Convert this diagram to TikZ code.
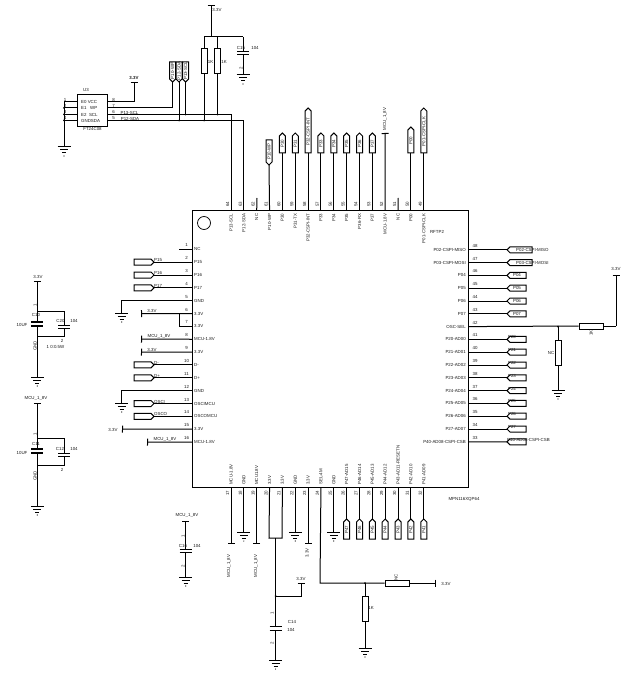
\documentclass[tikz,border=0pt]{standalone}
\usepackage{fontspec}
\setmainfont{Liberation Sans}
\usetikzlibrary{arrows.meta}
\tikzset{wire/.style={line width=1pt},
  pwr/.style={wire,-{Bar[width=7pt,line width=1pt]}},
  txt/.style={inner sep=0pt,font=\fontsize{4.4}{5}\selectfont,text=black!90},
  txtup/.style={txt,rotate=90},
  resbox/.style={draw,line width=1pt,fill=white,inner sep=0pt},
  resh/.style={resbox,minimum width=24pt,minimum height=6pt},
  resv/.style={resbox,minimum width=6pt,minimum height=25pt},
  plate/.style={line width=1.2pt},
  gnd/.pic={\draw[line width=1pt] (-6.5,0) -- (6.5,0) (-4,3) -- (4,3) (-2,6) -- (2,6);
            \fill (0,9) circle (.6pt);}}
\newcommand{\portflag}[5]{%
  \begin{scope}[shift={(#3,#4)},rotate=#2]
    \draw[line width=1pt,fill=white] (0,0) -- (3,-3) -- ({#5},-3) -- ({#5},3) -- (3,3) -- cycle;
    \coordinate (#1) at (0,0);
    \coordinate (#1b) at ({#5},0);
  \end{scope}}
\newcommand{\capplates}[4]{%
  \draw[plate] ({#2-6},{#3-#4}) -- ({#2+6},{#3-#4});
  \draw[plate] ({#2-6},{#3+#4}) -- ({#2+6},{#3+#4});
  \coordinate (#1t) at (#2,{#3-#4});
  \coordinate (#1b) at (#2,{#3+#4});}
\newcommand{\jdot}[1]{\fill (#1) circle (1pt);}
\begin{document}
\begin{tikzpicture}[x=1pt,y=-1pt]
  \useasboundingbox (0,0) rectangle (630,676);

  % main chip
  \node[draw,line width=1pt,minimum width=276pt,minimum height=277pt,inner sep=0pt] (MPN) at (330,348.5) {};
  \node[draw,line width=.7pt,circle,minimum size=13pt,inner sep=0pt] (dot1) at (204,223) {};
  \node[txt] (rftp) at (437,232) {RFTP2};
  \node[txt] (mpnname) at (464,499) {MPN116XQP64};

  % left pins
  \foreach \n/\lab in {1/NC,2/P15,3/P16,4/P17,5/GND,6/3.3V,7/3.3V,8/MCU-1.8V,9/3.3V,10/D-,11/D+,12/GND,13/OSCIMCU,14/OSCOMCU,15/3.3V,16/MCU-1.8V} {
    \pgfmathsetmacro{\ypin}{249.3+12.85*(\n-1)}
    \coordinate (L\n) at (192,\ypin);
    \node[txt,anchor=west] (Lt\n) at (194,\ypin) {\lab};
    \node[txt] (Ln\n) at (186.5,\ypin-4) {\n};
  }
  % right pins
  \foreach \n/\lab in {48/P02-CSPI-MISO,47/P03-CSPI-MOSI,46/P04,45/P05,44/P06,43/P07,42/OSC-SEL,41/P20-AD00,40/P21-AD01,39/P22-AD02,38/P23-AD03,37/P24-AD04,36/P25-AD05,35/P26-AD06,34/P27-AD07,33/P40-AD08-CSPI-CSB} {
    \pgfmathsetmacro{\ypin}{249.8+12.8*(48-\n)}
    \coordinate (R\n) at (468,\ypin);
    \node[txt,anchor=east] (Rt\n) at (466,\ypin) {\lab};
    \node[txt] (Rn\n) at (475,\ypin-4) {\n};
  }
  % top pins
  \foreach \n/\lab in {64/P13-SCL,63/P12-SDA,62/NC,61/P10-WP,60/P30,59/P31-TX,58/P32-CSPI-INT,57/P33,56/P34,55/P35,54/P36-RX,53/P37,52/MCU-1.8V,51/NC,50/P00,49/P01-CSPI-CLK} {
    \pgfmathsetmacro{\xpin}{231+12.85*(64-\n)}
    \coordinate (T\n) at (\xpin,210);
    \node[txtup,anchor=east] (Tt\n) at (\xpin,213.5) {\lab};
    \node[txtup] (Tn\n) at (\xpin-3.5,204) {\n};
  }
  % bottom pins
  \foreach \n/\lab in {17/MCU-1.8V,18/GND,19/MCU1.8V,20/3.3V,21/3.3V,22/GND,23/3.3V,24/SEL-4M,25/GND,26/P47-AD15,27/P46-AD14,28/P45-AD13,29/P44-AD12,30/P43-AD11-RESETN,31/P42-AD10,32/P41-AD09} {
    \pgfmathsetmacro{\xpin}{231+12.85*(\n-17)}
    \coordinate (B\n) at (\xpin,487);
    \node[txtup,anchor=west] (Bt\n) at (\xpin,485) {\lab};
    \node[txtup] (Bn\n) at (\xpin-3.5,493) {\n};
  }

  % flags on the left
  \foreach \n/\lab in {2/P15,3/P16,4/P17,10/D-,11/D+,13/OSCI,14/OSCO} {
    \pgfmathsetmacro{\ypin}{249.3+12.85*(\n-1)}
    \portflag{Lf\n}{180}{154}{\ypin}{20}
    \draw[wire] (L\n) -- (Lf\n);
    \node[txt,anchor=west] (Lp\n) at (154,\ypin-2) {\lab};
  }
  % flags on the right
  \foreach \n/\lab in {46/P04,45/P05,44/P06,43/P07} {
    \pgfmathsetmacro{\ypin}{249.8+12.8*(48-\n)}
    \portflag{Rf\n}{0}{507}{\ypin}{19}
    \draw[wire] (R\n) -- (Rf\n);
    \node[txt] (Rp\n) at (517,\ypin) {\lab};
  }
  \foreach \n/\lab in {41/P20,40/P21,39/P22,38/P23,37/P24,36/P25,35/P26,34/P27} {
    \pgfmathsetmacro{\ypin}{249.8+12.8*(48-\n)}
    \portflag{Rf\n}{0}{507}{\ypin}{19}
    \draw[wire] (R\n) -- (Rf\n);
    \node[txt] (Rp\n) at (512,\ypin-2) {\lab};
  }
  \portflag{Rf48}{0}{507}{249.8}{25}
  \portflag{Rf47}{0}{507}{262.6}{25}
  \portflag{Rf33}{0}{507}{441.8}{19}
  \draw[wire] (R48) -- (Rf48);
  \draw[wire] (R47) -- (Rf47);
  \draw[wire] (R33) -- (Rf33);
  \node[txt,anchor=west] (Rp48) at (516,249.8) {P02-CSPI-MISO};
  \node[txt,anchor=west] (Rp47) at (516,262.6) {P03-CSPI-MOSI};
  \node[txt,anchor=west] (Rp33) at (507,439.8) {P40-AD08-CSPI-CSB};

  % flags on the top
  \foreach \n/\tip/\lab in {60/133/P30,59/133/P31,58/108/P32-CSPI-INT,57/133/P33,56/133/P34,55/133/P35,54/133/P36,53/133/P37,50/127/P00,49/108/P01-CSPI-CLK} {
    \pgfmathsetmacro{\xpin}{231+12.85*(64-\n)}
    \portflag{Tf\n}{-90}{\xpin}{\tip}{153-\tip}
    \draw[wire] (T\n) -- (Tf\n b);
    \node[txtup] (Tp\n) at (\xpin,{(\tip+155)/2}) {\lab};
  }
  \portflag{Tf61}{90}{269}{165}{25}
  \draw[wire] (T61) -- (Tf61);
  \node[txtup] (Tp61) at (269,151.5) {P10-WP};
  \coordinate (nc62) at (257,198);
  \coordinate (nc51) at (398,198);
  \draw[wire] (T62) -- (nc62);
  \draw[wire] (T51) -- (nc51);
  \coordinate (pw52) at (385,133);
  \draw[pwr] (T52) -- (pw52);
  \node[txtup] (pl52) at (385,119) {MCU\_1\_8V};

  % flags on the bottom
  \foreach \n/\lab in {26/P47,27/P46,28/P45,29/P44,30/P43,31/P42,32/P41} {
    \pgfmathsetmacro{\xpin}{231+12.85*(\n-17)}
    \portflag{Bf\n}{-90}{\xpin}{519}{20}
    \draw[wire] (B\n) -- (Bf\n);
    \node[txtup] (Bp\n) at (\xpin,530) {\lab};
  }

  % left side, power and ground
  \coordinate (nc1) at (179,249.3);
  \draw[wire] (L1) -- (nc1);
  \coordinate (g5) at (121.7,313);
  \draw[wire] (L5) -| (g5);
  \pic at (g5) {gnd};
  \coordinate (pw6) at (141,313.6);
  \coordinate (j7) at (179,313.6);
  \draw[pwr] (L6) -- (pw6);
  \draw[wire] (L7) -| (j7);
  \node[txt] (pl6) at (152,310.5) {3.3V};
  \coordinate (pw8) at (141,339.2);
  \draw[pwr] (L8) -- (pw8);
  \node[txt] (pl8) at (159,336.5) {MCU\_1\_8V};
  \coordinate (pw9) at (141,352);
  \draw[pwr] (L9) -- (pw9);
  \node[txt] (pl9) at (152,349.5) {3.3V};
  \coordinate (g12) at (121.7,403);
  \draw[wire] (L12) -| (g12);
  \pic at (g12) {gnd};
  \coordinate (pw15) at (122,429);
  \draw[pwr] (L15) -- (pw15);
  \node[txt] (pl15) at (113,429.5) {3.3V};
  \coordinate (pw16) at (147,442);
  \draw[pwr] (L16) -- (pw16);
  \node[txt] (pl16) at (165,439.5) {MCU\_1\_8V};

  % osc-sel resistors
  \node[resh] (R1k) at (591,326) {};
  \node[resv] (Rnc) at (558,352.5) {};
  \coordinate (j42) at (558,326.6);
  \coordinate (up42) at (616,326);
  \coordinate (pw42) at (616,275);
  \coordinate (g42) at (558,390);
  \draw[wire] (R42) -- (R1k.west);
  \draw[wire] (R1k.east) -- (up42);
  \draw[pwr] (up42) -- (pw42);
  \draw[wire] (j42) -- (Rnc.north);
  \draw[wire] (Rnc.south) -- (g42);
  \pic at (g42) {gnd};
  \jdot{j42}
  \node[txt] (pl42) at (616,269) {3.3V};
  \node[txtup] (R1kt) at (591,333) {1K};
  \node[txt] (Rnct) at (551,353) {NC};

  % bottom pins, power and ground
  \foreach \n in {18,22,25} {
    \path (B\n) ++(0,45) coordinate (g\n);
    \draw[wire] (B\n) -- (g\n);
    \pic at (g\n) {gnd};
  }
  \foreach \n in {17,19,23} {
    \path (B\n) ++(0,57) coordinate (pw\n);
    \draw[pwr] (B\n) -- (pw\n);
  }
  \node[txtup] (pl17) at (229,566) {MCU\_1\_8V};
  \node[txtup] (pl19) at (256,566) {MCU\_1\_8V};
  \node[txtup] (pl23) at (307,553) {3.3V};

  % pins 20 and 21 with C14
  \coordinate (j20) at (269,538);
  \coordinate (j21) at (282,538);
  \coordinate (jc14) at (275.6,538);
  \coordinate (j33) at (275.6,596);
  \coordinate (pw33) at (301,583);
  \coordinate (g14) at (275.6,660);
  \draw[wire] (B20) -- (j20) -- (j21) -- (B21);
  \capplates{c14}{275.6}{628.5}{2}
  \draw[wire] (jc14) -- (c14t);
  \draw[wire] (c14b) -- (g14);
  \draw[pwr] (j33) -| (pw33);
  \jdot{j33}
  \pic at (g14) {gnd};
  \node[txt] (pl33) at (301,578.5) {3.3V};
  \node[txt] (c14n) at (292,622) {C14};
  \node[txt] (c14v) at (291,630) {104};
  \node[txtup] (c14a) at (272,613) {1};
  \node[txtup] (c14c) at (272,643) {2};

  % pin 24 with its resistors
  \node[resh] (Rs) at (397,583) {};
  \node[resv] (Rp) at (365,608.5) {};
  \coordinate (c24) at (320,583);
  \coordinate (j24) at (365,583);
  \coordinate (pw24) at (436,583);
  \coordinate (g24) at (365,648);
  \draw[wire] (B24) -- (c24) -- (Rs.west);
  \draw[pwr] (Rs.east) -- (pw24);
  \draw[wire] (j24) -- (Rp.north);
  \draw[wire] (Rp.south) -- (g24);
  \pic at (g24) {gnd};
  \jdot{j24}
  \node[txt] (pl24) at (446,584) {3.3V};
  \node[txtup] (Rst) at (396,577) {NC};
  \node[txt] (Rpt) at (371,608) {1K};

  % U3
  \node[draw,line width=1pt,minimum width=30pt,minimum height=32pt,inner sep=0pt] (U3) at (92,111) {};
  \node[txt] (U3t) at (86,90) {U3};
  \node[txt] (U3p) at (92.5,128.7) {FT24C08};
  \foreach \n/\ypin/\lab in {1/102/E0 VCC,2/108/E1 \ \ WP,3/114.5/E2 \ SCL,4/120.5/GNDSDA} {
    \coordinate (Ua\n) at (77,\ypin);
    \coordinate (Ug\n) at (64,\ypin);
    \draw[wire] (Ua\n) -- (Ug\n);
    \node[txt,anchor=west] (Ut\n) at (81,\ypin) {\lab};
    \node[txt] (Un\n) at (65,\ypin-2.5) {\n};
  }
  \foreach \n/\ypin in {8/102,7/108,6/114.5,5/120.5} {
    \coordinate (Ub\n) at (107,\ypin);
    \node[txt] (Un\n) at (113.5,\ypin-2.5) {\n};
  }
  \coordinate (gU) at (64,147);
  \draw[wire] (Ug1) -- (gU);
  \pic at (gU) {gnd};
  \jdot{Ug2} \jdot{Ug3} \jdot{Ug4}
  \coordinate (pwU) at (134,82);
  \draw[pwr] (Ub8) -| (pwU);
  \node[txt,font=\fontsize{4.4}{5}\selectfont\bfseries] (plU) at (134,77.5) {3.3V};
  \node[txt] (sclt) at (129.5,112.5) {P13-SCL};
  \node[txt] (sdat) at (130,118.7) {P12-SDA};

  % lines to pins 64 and 63
  \draw[wire] (Ub6) -| (T64);
  \draw[wire] (Ub5) -| (T63);

  % flags over U3
  \foreach \n/\xpin/\lab in {a/172.7/P10-WP,b/179/P12-SDA,c/185.7/P13-SCL} {
    \portflag{Uf\n}{90}{\xpin}{82}{20}
    \node[txtup] (Up\n) at (\xpin,71) {\lab};
  }
  \coordinate (ja) at (172.7,108);
  \coordinate (jb) at (179,120.5);
  \coordinate (jc) at (185.7,114.5);
  \draw[wire] (Ub7) -- (ja) -- (Ufa);
  \draw[wire] (Ufb) -- (jb);
  \draw[wire] (Ufc) -- (jc);
  \jdot{jb} \jdot{jc}

  % pull-ups and C15
  \node[resv] (Rl) at (204,61.5) {};
  \node[resv] (Rr) at (217.7,61.5) {};
  \coordinate (pwtop) at (211,5);
  \coordinate (jtop) at (211,37);
  \coordinate (jl) at (204,37);
  \coordinate (jr) at (217.7,37);
  \coordinate (jcap) at (243,37);
  \coordinate (jl2) at (204,120.5);
  \coordinate (jr2) at (217.7,114.5);
  \coordinate (g15) at (243,75);
  \draw[pwr] (jtop) -- (pwtop);
  \draw[wire] (jl) -- (jcap);
  \draw[wire] (jl) -- (Rl.north);
  \draw[wire] (jr) -- (Rr.north);
  \draw[wire] (Rl.south) -- (jl2);
  \draw[wire] (Rr.south) -- (jr2);
  \jdot{jl2} \jdot{jr2}
  \capplates{c15}{243}{53}{1.5}
  \draw[wire] (jcap) -- (c15t);
  \draw[wire] (c15b) -- (g15);
  \pic at (g15) {gnd};
  \node[txt] (pltop) at (217,10) {3.3V};
  \node[txt] (Rlt) at (210.5,62) {1K};
  \node[txt] (Rrt) at (224,62) {1K};
  \node[txt] (c15n) at (241,48) {C15};
  \node[txt] (c15v) at (255,48) {104};
  \node[txtup] (c15c) at (241,68) {2};

  % C10 and C20
  \coordinate (pwa) at (37.3,281);
  \coordinate (ga) at (37.3,377);
  \coordinate (jat) at (37.3,311);
  \coordinate (jab) at (37.3,336);
  \coordinate (ca) at (64,311);
  \coordinate (cb) at (64,336);
  \capplates{ca1}{37.3}{324}{2}
  \capplates{ca2}{64}{327}{1.5}
  \draw[pwr] (ca1t) -- (pwa);
  \draw[wire] (ca1b) -- (ga);
  \draw[wire] (jat) -- (ca) -- (ca2t);
  \draw[wire] (ca2b) -- (cb) -- (jab);
  \pic at (ga) {gnd};
  \node[txt] (pla) at (38,277) {3.3V};
  \node[txtup] (ca1a) at (35,305) {1};
  \node[txt] (ca1n) at (36,315) {C10};
  \node[txt] (ca1v) at (22,325) {10UF};
  \node[txtup] (ca1g) at (35,346) {GND};
  \node[txt] (ca2n) at (60.5,321) {C20};
  \node[txt] (ca2v) at (74,321) {104};
  \node[txt] (ca2c) at (62,341) {2};
  \node[txt] (ca2w) at (55.5,347) {1 0:0.5W};

  % C11 and C12
  \coordinate (pwb) at (37.3,403);
  \coordinate (gb) at (37.3,506);
  \coordinate (jbt) at (37.3,438);
  \coordinate (jbb) at (37.3,465);
  \coordinate (cc) at (64,438);
  \coordinate (cd) at (64,465);
  \capplates{cb1}{37.3}{451}{2}
  \capplates{cb2}{64}{455}{1.5}
  \draw[pwr] (cb1t) -- (pwb);
  \draw[wire] (cb1b) -- (gb);
  \draw[wire] (jbt) -- (cc) -- (cb2t);
  \draw[wire] (cb2b) -- (cd) -- (jbb);
  \pic at (gb) {gnd};
  \node[txt] (plb) at (36,398) {MCU\_1\_8V};
  \node[txtup] (cb1a) at (35,434) {1};
  \node[txt] (cb1n) at (36,444) {C11};
  \node[txt] (cb1v) at (22,453) {10UF};
  \node[txtup] (cb1g) at (35,476) {GND};
  \node[txt] (cb2n) at (60,449) {C12};
  \node[txt] (cb2v) at (74,449) {104};
  \node[txt] (cb2c) at (62,470) {2};

  % C16
  \coordinate (pwc) at (185.7,521);
  \coordinate (gc) at (185.7,577);
  \capplates{cc1}{185.7}{551}{1.5}
  \draw[pwr] (cc1t) -- (pwc);
  \draw[wire] (cc1b) -- (gc);
  \pic at (gc) {gnd};
  \node[txt] (plc) at (187,515.5) {MCU\_1\_8V};
  \node[txtup] (cc1a) at (183,536) {1};
  \node[txt] (cc1n) at (183,546) {C16};
  \node[txt] (cc1v) at (197,546) {104};
  \node[txtup] (cc1c) at (183,566) {2};
\end{tikzpicture}
\end{document}
